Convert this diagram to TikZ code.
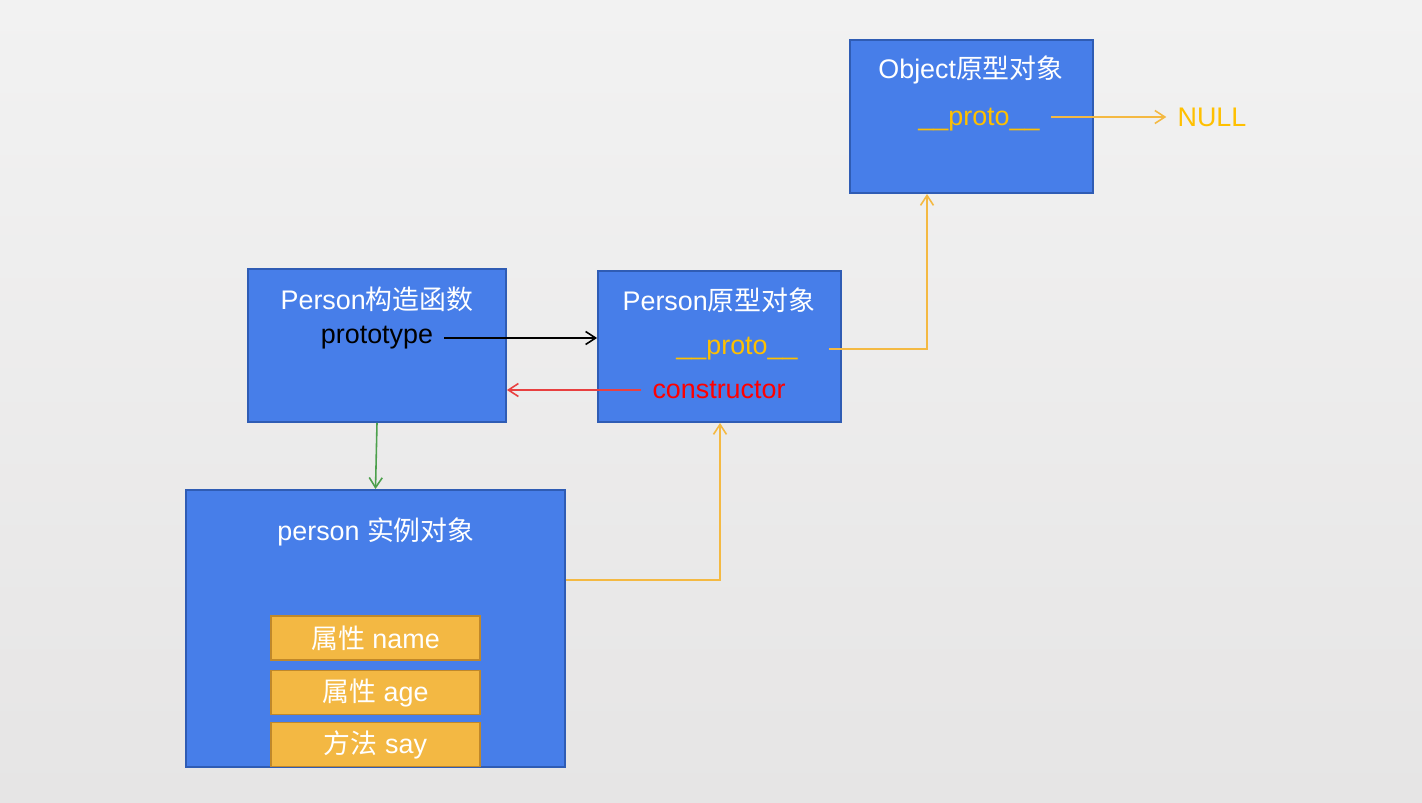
\documentclass[tikz,border=0pt]{standalone}
\usepackage{fontspec}
\setmainfont{Liberation Sans}
\newfontfamily\cjk{Noto Sans CJK SC}
\usetikzlibrary{arrows.meta,positioning}
\definecolor{boxblue}{RGB}{71,126,233}
\definecolor{boxedge}{RGB}{47,92,180}
\definecolor{attrfill}{RGB}{243,184,67}
\definecolor{attredge}{RGB}{192,136,42}
\definecolor{linkorange}{RGB}{244,185,66}
\definecolor{protoyellow}{RGB}{255,192,0}
\definecolor{linkred}{RGB}{232,64,64}
\definecolor{linkgreen}{RGB}{76,160,76}
\tikzset{
  objbox/.style={rectangle, draw=boxedge, line width=1.1pt, fill=boxblue,
    inner sep=0pt},
  attrbox/.style={rectangle, draw=attredge, line width=1.1pt, fill=attrfill,
    minimum width=4.18cm, minimum height=0.88cm, inner sep=0pt,
    font=\fontsize{15.3pt}{18pt}\selectfont, text=white},
  lbl/.style={inner sep=0pt, font=\fontsize{15.3pt}{18pt}\selectfont},
  ar/.style={-{Straight Barb[length=2mm,width=2.6mm]}, line width=0.9pt},
}

\begin{document}
\begin{tikzpicture}[x=0.02cm, y=-0.02cm]

\shade[top color={rgb,255:red,242;green,242;blue,242},
  bottom color={rgb,255:red,230;green,229;blue,229}] (0,0) rectangle (1422,803);
\useasboundingbox (0,0) rectangle (1422,803);

% ===================== OBJECT PROTOTYPE =====================
\node[objbox, minimum width=4.86cm, minimum height=3.06cm] (obox) at (971.5,116.5) {};
\node[lbl, text=white] (otitle) at (971,70) {Object{\cjk 原型对象}};
\node[lbl, text=protoyellow] (oproto) at (979,120) {\_\_proto\_\_};
\node[lbl, text=protoyellow] (null) at (1212,117) {NULL};

\draw[ar, linkorange] ([xshift=0.22cm]oproto.east |- null.west) -- ([xshift=-0.22cm]null.west);

% ===================== PERSON CONSTRUCTOR =====================
\node[objbox, minimum width=5.16cm, minimum height=3.06cm] (cbox) at (377,345.5) {};
\node[lbl, text=white] (ctitle) at (377,299) {Person{\cjk 构造函数}};
\node[lbl] (ptype) at (377,338) {prototype};

% ===================== PERSON PROTOTYPE =====================
\node[objbox, minimum width=4.86cm, minimum height=3.02cm] (pbox) at (719.5,346.5) {};
\node[lbl, text=white] (ptitle) at (719,300) {Person{\cjk 原型对象}};
\node[lbl, text=protoyellow] (pproto) at (737,349) {\_\_proto\_\_};
\node[lbl, text=red] (ctor) at (719,390) {constructor};

\draw[ar] ([xshift=0.22cm]ptype.east) -- (pbox.west |- ptype);
\draw[ar, linkred] ([xshift=-0.22cm]ctor.west) -- (cbox.east |- ctor);
\draw[ar, linkorange] ([xshift=0.62cm]pproto.east) -| ([xshift=-0.89cm]obox.south);

% ===================== PERSON INSTANCE =====================
\node[objbox, minimum width=7.58cm, minimum height=5.54cm] (ibox) at (375.5,628.5) {};
\node[lbl, text=white] (ititle) at (376,532) {person {\cjk 实例对象}};
\node[attrbox] (aname) at (375.5,638)   {{\cjk 属性} name};
\node[attrbox] (aage)  at (375.5,692.5) {{\cjk 属性} age};
\node[attrbox] (asay)  at (375.5,744.5) {{\cjk 方法} say};

\draw[ar, linkgreen] (cbox.south) -- (ibox.north);
\draw[ar, linkorange] ([yshift=0.97cm]ibox.east) -| ([xshift=0.01cm]pbox.south);

\end{tikzpicture}
\end{document}
